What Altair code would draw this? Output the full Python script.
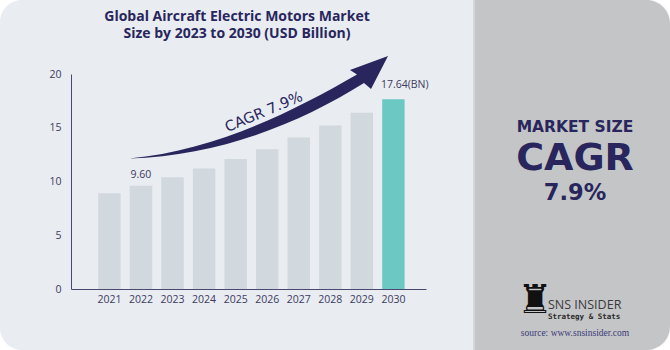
import altair as alt
import pandas as pd

# ---------------- data ----------------
years = ["2021", "2022", "2023", "2024", "2025", "2026", "2027", "2028", "2029", "2030"]
values = [8.9, 9.6, 10.4, 11.2, 12.1, 13.0, 14.1, 15.2, 16.4, 17.64]
highlight_year = "2030"

label_small_year = ["2022"]
label_small_value = [9.6]
label_small_text = ["9.60"]

label_big_year = ["2030"]
label_big_value = [17.64]
label_big_text = ["17.64(BN)"]

y_ticks = [0, 5, 10, 15, 20]

title_lines = ["Global Aircraft Electric Motors Market", "Size by 2023 to 2030 (USD Billion)"]
cagr_text = "CAGR 7.9%"
side_texts = ["MARKET SIZE", "CAGR", "7.9%"]
brand_name = "SNS INSIDER"
brand_tag = "Strategy & Stats"
source_text = "source: www.snsinsider.com"

# ---------------- layout / style ----------------
W_TOTAL, H_TOTAL = 670, 350
LEFT, TOP = 71, 74
W, H = 355, 215

NAVY = "#28265c"
AXIS_TXT = "#3c3b60"
BG_LIGHT = "#e9ecf1"
BG_SIDE = "#c4c5c7"
BAR_GRAY = "#d1d8de"
TEAL = "#6cc8c3"

df = pd.DataFrame({"year": years, "value": values})
one = pd.DataFrame({"k": [0]})


def px(x):
    return alt.value(x - LEFT)


def py(y):
    return alt.value(y - TOP)


def note(text, x, y, **kw):
    return alt.Chart(one).mark_text(**kw).encode(x=px(x), y=py(y), text=alt.value(text))


def box(x0, x1, y0, y1, color, **kw):
    return alt.Chart(one).mark_rect(color=color, **kw).encode(
        x=px(x0), x2=px(x1), y=py(y0), y2=py(y1)
    )


# backgrounds
bg = box(0, W_TOTAL, 0, H_TOTAL, BG_LIGHT, cornerRadius=22)
side = box(474, W_TOTAL, 0, H_TOTAL, BG_SIDE,
           cornerRadiusTopRight=24, cornerRadiusBottomRight=24)
sep = box(473, 475, 0, H_TOTAL, "#d3d5d8")

x_enc = alt.X(
    "year:O",
    sort=years,
    scale=alt.Scale(paddingInner=0.29, paddingOuter=0.77, align=0.56),
    axis=alt.Axis(
        title=None, labelAngle=0, ticks=False, domainColor="#4a4870", domainWidth=1,
        labelColor=AXIS_TXT, labelFont="Open Sans", labelFontSize=10.5, labelPadding=5,
        zindex=2,
    ),
)
y_enc = alt.Y(
    "value:Q",
    scale=alt.Scale(domain=[0, 20], nice=False),
    axis=alt.Axis(
        title=None, values=y_ticks, grid=False, ticks=False, domainColor="#4a4870",
        domainWidth=1, labelColor=AXIS_TXT, labelFont="Open Sans", labelFontSize=10.5,
        labelPadding=10, zindex=2,
    ),
)

bars = alt.Chart(df).mark_bar().encode(
    x=x_enc,
    y=y_enc,
    color=alt.condition(alt.datum.year == highlight_year, alt.value(TEAL), alt.value(BAR_GRAY)),
)

lab_small = alt.Chart(pd.DataFrame({"year": label_small_year, "value": label_small_value,
                                    "t": label_small_text})).mark_text(
    font="Open Sans", fontSize=10.5, color=AXIS_TXT, baseline="alphabetic", dy=-7.5
).encode(x=alt.X("year:O", sort=years), y="value:Q", text="t:N")

lab_big = alt.Chart(pd.DataFrame({"year": label_big_year, "value": label_big_value,
                                  "t": label_big_text})).mark_text(
    font="Open Sans", fontSize=10.5, color=AXIS_TXT, baseline="alphabetic", align="left",
    dx=-12.5, dy=-11
).encode(x=alt.X("year:O", sort=years), y="value:Q", text="t:N")

# arrow shape (decoration) as a custom symbol path
outline = [
    ("M", [(129, 158.5)]),
    ("C", [(220, 156), (300, 123), (364, 83)]),
    ("L", [(371, 89)]),
    ("L", [(388, 56)]),
    ("L", [(350, 70)]),
    ("L", [(357, 74.5)]),
    ("C", [(292, 112), (215, 150.5), (129, 158.5)]),
]
cx, cy, S = (129 + 388) / 2, (56 + 158.5) / 2, 130.0
parts = []
for cmd, pts in outline:
    parts.append(cmd + " " + " ".join(f"{(x - cx) / S:.4f},{(y - cy) / S:.4f}" for x, y in pts))
arrow_path = " ".join(parts) + " Z"
arrow = alt.Chart(one).mark_point(
    shape=arrow_path, filled=True, color=NAVY, opacity=1, strokeWidth=0, size=(2 * S) ** 2
).encode(x=px(cx), y=py(cy))

cagr = note(cagr_text, 264, 112.5, font="DejaVu Sans", fontSize=14.5, color=NAVY, angle=337,
            align="center", baseline="middle")

t1 = note(title_lines[0], 237, 20.5, font="Open Sans", fontWeight=700, fontSize=14, color=NAVY,
          align="center", baseline="alphabetic")
t2 = note(title_lines[1], 237, 37.8, font="Open Sans", fontWeight=700, fontSize=14, color=NAVY,
          align="center", baseline="alphabetic")

s1 = note(side_texts[0], 575, 131.5, font="DejaVu Sans", fontWeight="bold", fontSize=15.5,
          color=NAVY, align="center", baseline="alphabetic")
s2 = note(side_texts[1], 575, 170, font="DejaVu Sans", fontWeight="bold", fontSize=38,
          color=NAVY, align="center", baseline="alphabetic")
s3 = note(side_texts[2], 575, 199.5, font="DejaVu Sans", fontWeight="bold", fontSize=22.5,
          color=NAVY, align="center", baseline="alphabetic")

rook = note("\u265c", 535, 301, font="DejaVu Sans", fontSize=40, color="#111111",
            align="center", baseline="middle")
brand = note(brand_name, 548, 309, font="Open Sans", fontSize=12.5, color="#3a3a3c",
             align="left", baseline="alphabetic")
tag = note(brand_tag, 548, 319, font="DejaVu Sans Mono", fontWeight="bold", fontSize=7.5,
           color="#2a2a2a", align="left", baseline="alphabetic")
src = note(source_text, 575, 336, font="Liberation Serif", fontSize=9.5, color="#3b3a78",
           align="center", baseline="alphabetic")

chart = alt.layer(
    bg, side, sep, bars, lab_small, lab_big, arrow, cagr, t1, t2, s1, s2, s3, rook, brand, tag, src
).properties(
    width=W, height=H,
    autosize=alt.AutoSizeParams(type="none"),
    padding={"left": LEFT, "top": TOP, "right": W_TOTAL - LEFT - W, "bottom": H_TOTAL - TOP - H},
    background="white",
).configure_view(stroke=None)

chart.save("out.html", embed_options={"renderer": "svg", "actions": False})
